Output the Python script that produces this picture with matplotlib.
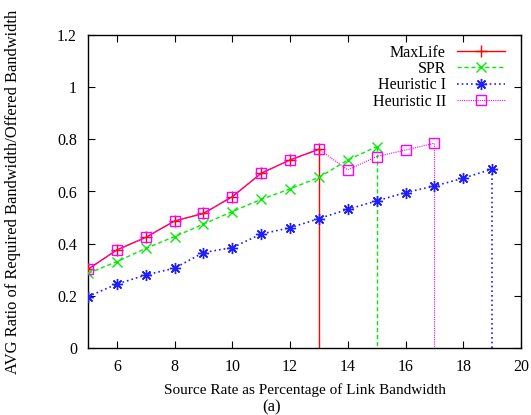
import matplotlib
matplotlib.use("Agg")
import matplotlib.pyplot as plt

plt.rcParams['font.family'] = ['Liberation Serif', 'DejaVu Serif']

x_maxlife = [5, 6, 7, 8, 9, 10, 11, 12, 13]
y_maxlife = [0.302, 0.376, 0.424, 0.487, 0.516, 0.580, 0.670, 0.721, 0.762]

x_spr = [5, 6, 7, 8, 9, 10, 11, 12, 13, 14, 15]
y_spr = [0.286, 0.331, 0.382, 0.427, 0.475, 0.523, 0.570, 0.610, 0.654, 0.721, 0.772]

x_h1 = [5, 6, 7, 8, 9, 10, 11, 12, 13, 14, 15, 16, 17, 18, 19]
y_h1 = [0.197, 0.245, 0.280, 0.306, 0.366, 0.385, 0.437, 0.461, 0.496,
        0.532, 0.564, 0.596, 0.621, 0.651, 0.686]

x_h2 = [5, 6, 7, 8, 9, 10, 11, 12, 13, 14, 15, 16, 17]
y_h2 = [0.302, 0.376, 0.424, 0.487, 0.516, 0.580, 0.670, 0.721, 0.762,
        0.683, 0.734, 0.759, 0.785]

labels = ["MaxLife", "SPR", "Heuristic I", "Heuristic II"]
x_ticks = [6, 8, 10, 12, 14, 16, 18, 20]
y_ticks = [0, 0.2, 0.4, 0.6, 0.8, 1.0, 1.2]
y_ticklabels = ["0", "0.2", "0.4", "0.6", "0.8", "1", "1.2"]

fig = plt.figure(figsize=(5.31, 4.15), dpi=100)
ax = fig.add_axes([88/531, 1-348/415, (521-88)/531, (348-35)/415])

styles = [
    dict(color='#ff0000', ls='-', lw=1.0, marker='+', ms=8, mew=1.0),
    dict(color='#00ee00', ls=(0, (3, 2)), lw=1.0, marker='x', ms=7, mew=1.0),
    dict(color='#2020ff', ls=(0, (1, 1.8)), lw=1.2, marker=(8, 2, 0), ms=8, mew=1.0),
    dict(color='#ff00ff', ls=(0, (1, 1)), lw=0.8, marker='s', ms=7.5, mew=1.0,
         mfc='none'),
]
series = [(x_maxlife, y_maxlife), (x_spr, y_spr), (x_h1, y_h1), (x_h2, y_h2)]
order = [3, 2, 1, 0]
handles = [None]*4
for i in order:
    xs, ys = series[i]
    st = styles[i]
    # drop line from last point to zero
    ax.plot([xs[-1], xs[-1]], [ys[-1], 0], color=st['color'], ls=st['ls'],
            lw=st['lw'], zorder=2+i*0.1)
    h, = ax.plot(xs, ys, label=labels[i], zorder=3+i*0.1, **st)
    handles[i] = h

ax.set_xlim(5, 20)
ax.set_ylim(0, 1.2)
ax.set_xticks(x_ticks)
ax.set_xticklabels([str(t) for t in x_ticks])
ax.set_yticks(y_ticks)
ax.set_yticklabels(y_ticklabels)
ax.tick_params(direction='in', top=True, right=True, labelsize=11.5, length=5,
               width=0.8, pad=8)
for s in ax.spines.values():
    s.set_linewidth(1.0)

ax.set_xlabel("Source Rate as Percentage of Link Bandwidth", fontsize=11,
              labelpad=6)
ax.set_ylabel("AVG Ratio of Required Bandwidth/Offered Bandwidth",
              fontsize=11.9, labelpad=20)
ax.yaxis.set_label_coords(-0.155, 0.5)
fig.text(272/531, 1-407/415, "(a)", ha='center', va='center', fontsize=12)

leg = ax.legend(handles=handles, labels=labels, loc='upper right',
                markerfirst=False, frameon=False, fontsize=11.5,
                handlelength=3.0, handletextpad=0.7, labelspacing=0.02,
                borderaxespad=0.2, bbox_to_anchor=(0.985, 1.0))

fig.savefig("out.png", dpi=100)
